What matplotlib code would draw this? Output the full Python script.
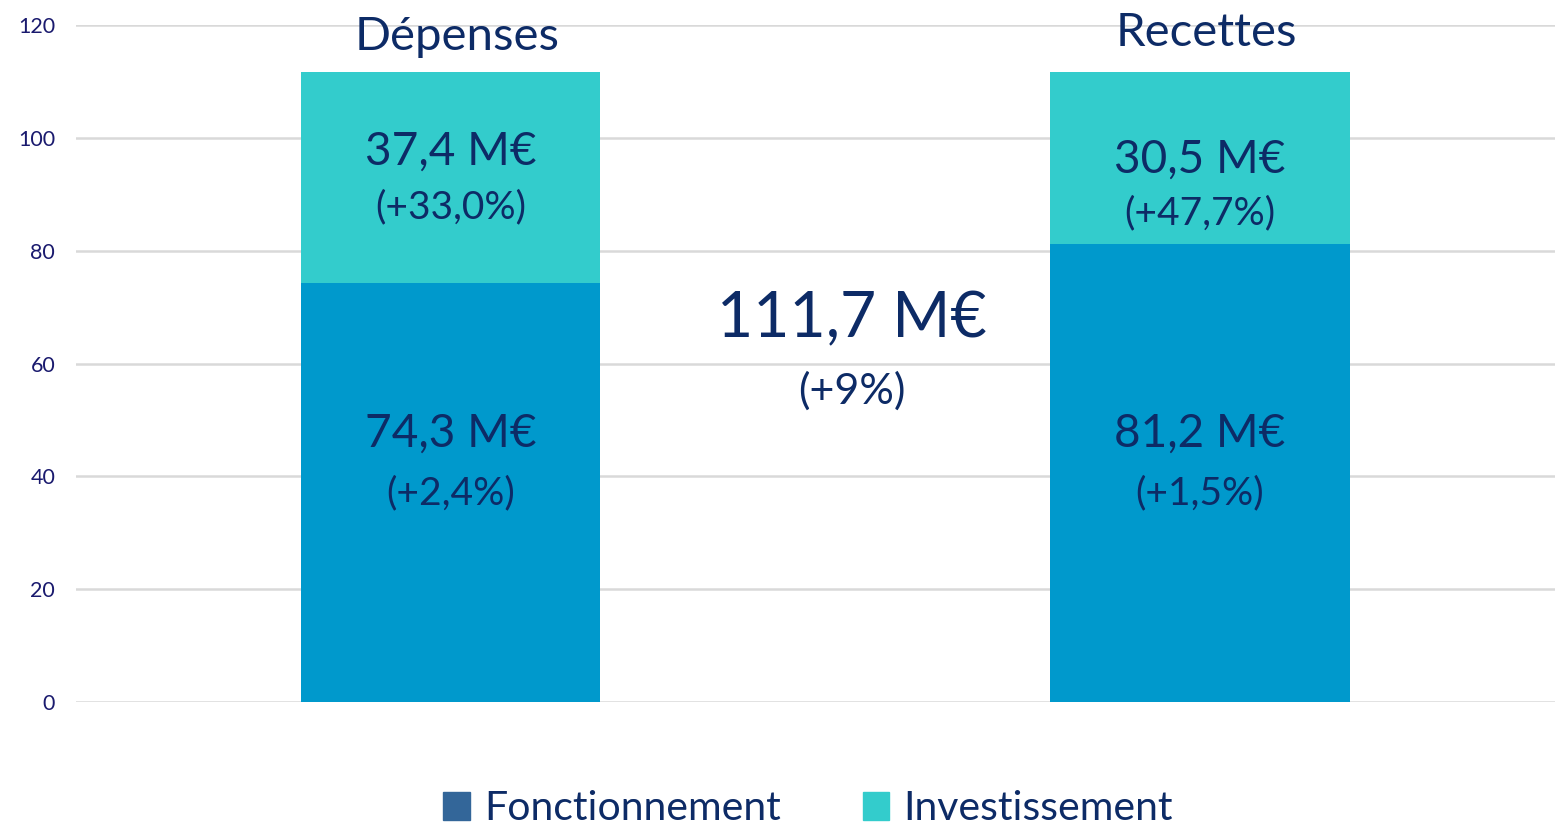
import matplotlib.pyplot as plt
from matplotlib.patches import Patch

# Data
categories = ["Dépenses", "Recettes"]
fonctionnement = [74.3, 81.2]
investissement = [37.4, 30.5]
fonct_labels = ["74,3 M€", "81,2 M€"]
fonct_pct = ["(+2,4%)", "(+1,5%)"]
invest_labels = ["37,4 M€", "30,5 M€"]
invest_pct = ["(+33,0%)", "(+47,7%)"]
total_label = "111,7 M€"
total_pct = "(+9%)"
yticks = [0, 20, 40, 60, 80, 100, 120]

C_FONCT = "#0099CC"
C_INV = "#33CCCC"
C_LEG_FONCT = "#336699"
NAVY = "#0D2B66"
TICK = "#1A1A6E"

plt.rcParams['font.family'] = ['Lato', 'DejaVu Sans']

fig = plt.figure(figsize=(15.55, 8.25), dpi=100)
ax = fig.add_axes([76 / 1555, 1 - 702 / 825, (1555 - 76) / 1555, (702 - 25) / 825])

x = range(len(categories))
ax.bar(x, fonctionnement, width=0.4, color=C_FONCT, zorder=3)
ax.bar(x, investissement, width=0.4, bottom=fonctionnement, color=C_INV, zorder=3)

ax.set_xlim(-0.5, 1.474)
ax.set_ylim(0, 120)
ax.set_yticks(yticks)
ax.set_xticks([])
ax.tick_params(axis='y', length=0, pad=15, labelsize=15.5, labelcolor=TICK)
ax.grid(axis='y', color='#D9D9D9', linewidth=1.8, zorder=0)
for s in ax.spines.values():
    s.set_visible(False)

# text baselines (data units)
title_y = [115.6, 116.3]
inv_y = [95.2, 93.9]
inv_pct_y = [85.8, 84.7]
fon_y = [45.2, 45.2]
fon_pct_y = [35.1, 35.1]

for i in x:
    ax.text(i + 0.009, title_y[i], categories[i], ha='center', va='baseline', fontsize=34, color=NAVY, zorder=4)
    ax.text(i, inv_y[i], invest_labels[i], ha='center', va='baseline', fontsize=33, color=NAVY, zorder=4)
    ax.text(i, inv_pct_y[i], invest_pct[i], ha='center', va='baseline', fontsize=28, color=NAVY, zorder=4)
    ax.text(i, fon_y[i], fonct_labels[i], ha='center', va='baseline', fontsize=33, color=NAVY, zorder=4)
    ax.text(i, fon_pct_y[i], fonct_pct[i], ha='center', va='baseline', fontsize=28, color=NAVY, zorder=4)

ax.text(0.535, 64.7, total_label, ha='center', va='baseline', fontsize=45, color=NAVY, zorder=4)
ax.text(0.535, 52.8, total_pct, ha='center', va='baseline', fontsize=31, color=NAVY, zorder=4)

handles = [Patch(color=C_LEG_FONCT, label="Fonctionnement"),
           Patch(color=C_INV, label="Investissement")]
leg = fig.legend(handles=handles, loc='center', bbox_to_anchor=(808 / 1555, 1 - 809 / 825),
                 ncol=2, frameon=False, fontsize=29.5, handlelength=0.65, handleheight=0.65,
                 handletextpad=0.35, columnspacing=2.0)
for t in leg.get_texts():
    t.set_color(NAVY)

fig.savefig("out.png", dpi=100)
